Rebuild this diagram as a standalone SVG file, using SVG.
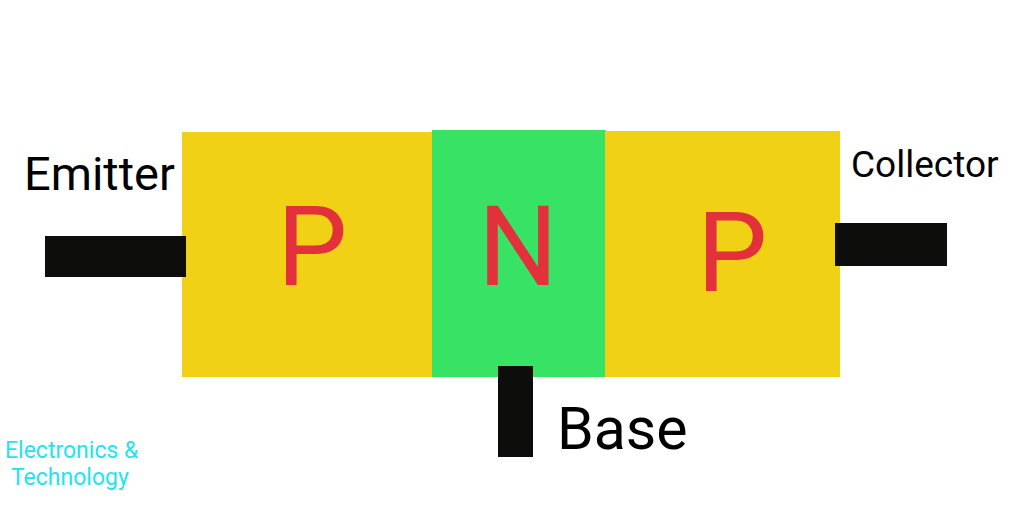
<svg xmlns="http://www.w3.org/2000/svg" width="1012" height="506" viewBox="0 0 1012 506">
<style>
.p{fill:#f1d115}
.n{fill:#37e264}
.lead{fill:#0d0d0b}
.big{font-family:Roboto,"Liberation Sans",sans-serif;fill:#e3313b;text-anchor:middle}
.lbl{font-family:Roboto,"Liberation Sans",sans-serif;fill:#000}
.wm{font-family:Roboto,"Liberation Sans",sans-serif;fill:#22e4f0;font-size:23px}
</style>
<rect width="1012" height="506" fill="#fff"/>
<g id="p-left"><rect class="p" x="182" y="132" width="251" height="245"/><text class="big" x="312" y="285" font-size="112">P</text></g>
<g id="n-mid"><rect class="n" x="432" y="130" width="174" height="247"/><text class="big" x="518" y="285" font-size="112">N</text></g>
<g id="p-right"><rect class="p" x="605" y="131" width="235" height="246"/><text class="big" x="732" y="291" font-size="112">P</text></g>
<g id="connectors">
<rect class="lead" x="45" y="236" width="141" height="41"/>
<rect class="lead" x="835" y="223" width="112" height="43"/>
<rect class="lead" x="498" y="366" width="35" height="91"/>
</g>
<g id="emitter"><text class="lbl" x="24" y="190" font-size="47">Emitter</text></g>
<g id="collector"><text class="lbl" x="851" y="177" font-size="37">Collector</text></g>
<g id="base"><text class="lbl" x="557" y="449" font-size="59">Base</text></g>
<g id="watermark"><text class="wm" x="5" y="458">Electronics &amp;</text><text class="wm" x="11" y="485">Technology</text></g>
</svg>
